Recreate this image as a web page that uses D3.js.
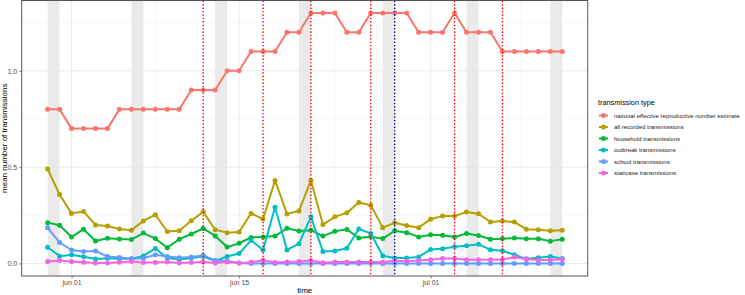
<!DOCTYPE html>
<html>
<head>
    <meta charset="utf-8">
    <title>Mean number of transmissions</title>
    <script type="text/javascript" src="https://cdn.jsdelivr.net/npm/d3@7"></script>
    <style>
        body { margin: 0; background: #fff; }
        svg { font-family: "Liberation Sans", Arial, sans-serif; }
        .axis text { fill: #4d4d4d; font-size: 7px; }
        .axis path { display: none; }
        .axis line { stroke: #333; stroke-width: 0.6; }
    </style>
</head>

<body>

<script type="text/javascript">
    var width = 745,
        height = 295,
        panel = {left: 21.7, right: 587.7, top: 0.5, bottom: 276};

    var startDate = new Date(2020, 4, 30);   // may 30, one value per day

    var seriesNames = [
        "national effective reproductive number estimate",
        "all recorded transmissions",
        "household transmissions",
        "outbreak transmissions",
        "school transmissions",
        "staircase transmissions"
    ];
    var seriesColors = ["#F8766D", "#B79F00", "#00BA38", "#00BFC4", "#619CFF", "#F564E3"];

    var reproductive = [0.8, 0.8, 0.7, 0.7, 0.7, 0.7, 0.8, 0.8, 0.8, 0.8, 0.8, 0.8,
        0.9, 0.9, 0.9, 1.0, 1.0, 1.1, 1.1, 1.1, 1.2, 1.2, 1.3, 1.3, 1.3, 1.2, 1.2,
        1.3, 1.3, 1.3, 1.3, 1.2, 1.2, 1.2, 1.3, 1.2, 1.2, 1.2, 1.1, 1.1, 1.1, 1.1, 1.1, 1.1];
    var allRecorded = [0.49, 0.358, 0.26, 0.27, 0.2, 0.195, 0.179, 0.173, 0.221, 0.253, 0.166,
        0.17, 0.222, 0.268, 0.175, 0.16, 0.163, 0.26, 0.231, 0.431, 0.257, 0.273, 0.431, 0.202,
        0.242, 0.263, 0.317, 0.302, 0.186, 0.211, 0.197, 0.186, 0.23, 0.247, 0.246, 0.267,
        0.258, 0.215, 0.22, 0.215, 0.178, 0.175, 0.17, 0.173];
    var household = [0.212, 0.198, 0.137, 0.178, 0.117, 0.131, 0.127, 0.125, 0.158, 0.129, 0.082,
        0.126, 0.153, 0.182, 0.143, 0.085, 0.105, 0.135, 0.138, 0.142, 0.183, 0.169, 0.173, 0.142,
        0.167, 0.177, 0.132, 0.139, 0.129, 0.17, 0.16, 0.138, 0.149, 0.147, 0.137, 0.156,
        0.145, 0.126, 0.128, 0.132, 0.128, 0.128, 0.116, 0.126];
    var outbreak = [0.084, 0.038, 0.045, 0.035, 0.023, 0.027, 0.025, 0.025, 0.039, 0.078, 0.028,
        0.02, 0.028, 0.036, 0.013, 0.036, 0.052, 0.12, 0.07, 0.292, 0.07, 0.103, 0.242, 0.062,
        0.065, 0.079, 0.179, 0.156, 0.04, 0.028, 0.028, 0.034, 0.073, 0.077, 0.087, 0.092,
        0.1, 0.071, 0.066, 0.045, 0.024, 0.03, 0.036, 0.026];
    var school = [0.185, 0.109, 0.07, 0.062, 0.065, 0.036, 0.031, 0.024, 0.027, 0.045, 0.036,
        0.03, 0.034, 0.042, 0.016, 0.013, 0.002, 0, 0, 0, 0, 0, 0, 0,
        0, 0, 0, 0, 0, 0, 0, 0, 0, 0, 0, 0,
        0, 0, 0, 0, 0, 0, 0, 0];
    var staircase = [0.01, 0.015, 0.01, 0.007, 0.003, 0.003, 0.007, 0.01, 0.005, 0.005, 0.008,
        0.003, 0.005, 0.008, 0.003, 0.008, 0.002, 0.007, 0.017, 0.005, 0.008, 0.01, 0.015, 0.004,
        0.008, 0.008, 0.008, 0.008, 0.007, 0.014, 0.012, 0.016, 0.019, 0.026, 0.026, 0.019,
        0.019, 0.019, 0.02, 0.034, 0.022, 0.018, 0.019, 0.022];

    var weekendStarts = ["2020-05-30", "2020-06-06", "2020-06-13", "2020-06-20", "2020-06-27", "2020-07-04", "2020-07-11"];
    var measureDates = ["2020-06-12", "2020-06-17", "2020-06-21", "2020-06-26", "2020-07-03", "2020-07-07"];
    var blueLineDates = ["2020-06-28"];

    var xTicks = ["2020-06-01", "2020-06-15", "2020-07-01"];
    var xMinor = ["2020-05-24 12:00", "2020-06-08", "2020-06-23", "2020-07-08 12:00"];
    var yTicks = [0, 0.5, 1.0];
    var yMinor = [0.25, 0.75, 1.25];

    var parse = d3.timeParse("%Y-%m-%d"),
        parseHalf = d3.timeParse("%Y-%m-%d %H:%M");

    var allSeries = [reproductive, allRecorded, household, outbreak, school, staircase];
    var nDays = reproductive.length;
    var dates = d3.range(nDays).map(function(i){ return d3.timeDay.offset(startDate, i); });

    var svg = d3.select("body").append("svg")
            .attr("width", width)
            .attr("height", height);

    var pad = (nDays - 1) * 0.05;
    var x = d3.scaleTime()
        .domain([d3.timeHour.offset(dates[0], -pad * 24), d3.timeHour.offset(dates[nDays - 1], pad * 24)])
        .range([panel.left, panel.right]);
    var y = d3.scaleLinear()
        .domain([-0.065, 1.365])
        .range([panel.bottom, panel.top]);

    function renderGrid(){
        var g = svg.append("g").classed("grid", true);

        g.selectAll("line.ym").data(yMinor).enter().append("line")
            .attr("x1", panel.left).attr("x2", panel.right)
            .attr("y1", function(d){ return y(d); }).attr("y2", function(d){ return y(d); })
            .attr("stroke", "#f2f2f2").attr("stroke-width", 0.6);
        g.selectAll("line.xm").data(xMinor).enter().append("line")
            .attr("x1", function(d){ return x(d.length > 10 ? parseHalf(d) : parse(d)); })
            .attr("x2", function(d){ return x(d.length > 10 ? parseHalf(d) : parse(d)); })
            .attr("y1", panel.top).attr("y2", panel.bottom)
            .attr("stroke", "#f2f2f2").attr("stroke-width", 0.6);
        g.selectAll("line.yM").data(yTicks).enter().append("line")
            .attr("x1", panel.left).attr("x2", panel.right)
            .attr("y1", function(d){ return y(d); }).attr("y2", function(d){ return y(d); })
            .attr("stroke", "#ebebeb").attr("stroke-width", 1);
        g.selectAll("line.xM").data(xTicks).enter().append("line")
            .attr("x1", function(d){ return x(parse(d)); }).attr("x2", function(d){ return x(parse(d)); })
            .attr("y1", panel.top).attr("y2", panel.bottom)
            .attr("stroke", "#ebebeb").attr("stroke-width", 1);
    }

    function renderWeekends(){
        svg.append("g").selectAll("rect").data(weekendStarts).enter().append("rect")
            .attr("x", function(d){ return x(parse(d)); })
            .attr("width", function(d){ return x(d3.timeDay.offset(parse(d), 1)) - x(parse(d)); })
            .attr("y", panel.top)
            .attr("height", panel.bottom - panel.top)
            .attr("fill", "#e3e3e3")
            .attr("fill-opacity", 0.75);
    }

    function renderSeries(){
        var line = d3.line()
            .x(function(d, i){ return x(dates[i]); })
            .y(function(d){ return y(d); });

        allSeries.forEach(function(values, k){
            var g = svg.append("g").classed("series", true);
            g.append("path")
                .attr("d", line(values))
                .attr("fill", "none")
                .attr("stroke", seriesColors[k])
                .attr("stroke-width", 2)
                .attr("stroke-linejoin", "round");
            g.selectAll("circle").data(values).enter().append("circle")
                .attr("cx", function(d, i){ return x(dates[i]); })
                .attr("cy", function(d){ return y(d); })
                .attr("r", 2.5)
                .attr("fill", seriesColors[k]);
        });
    }

    function renderVLines(list, color){
        svg.append("g").selectAll("line").data(list).enter().append("line")
            .attr("x1", function(d){ return x(parse(d)); })
            .attr("x2", function(d){ return x(parse(d)); })
            .attr("y1", panel.top + 1)
            .attr("y2", panel.bottom)
            .attr("stroke", color)
            .attr("stroke-width", 1.6)
            .attr("stroke-linecap", "round")
            .attr("stroke-dasharray", "0.1,3.3");
    }

    function renderAxes(){
        var fmt = d3.timeFormat("%b %d");
        var xAxis = d3.axisBottom(x)
            .tickValues(xTicks.map(parse))
            .tickSize(2.5)
            .tickPadding(2)
            .tickFormat(function(d){ return fmt(d).toLowerCase(); });
        svg.append("g")
            .classed("axis", true)
            .attr("transform", "translate(0," + panel.bottom + ")")
            .call(xAxis);

        var yAxis = d3.axisLeft(y)
            .tickValues(yTicks)
            .tickSize(2.5)
            .tickPadding(2)
            .tickFormat(d3.format(".1f"));
        svg.append("g")
            .classed("axis", true)
            .attr("transform", "translate(" + panel.left + ",0)")
            .call(yAxis);

        svg.append("rect")
            .attr("x", panel.left).attr("y", panel.top)
            .attr("width", panel.right - panel.left)
            .attr("height", panel.bottom - panel.top)
            .attr("fill", "none")
            .attr("stroke", "#555")
            .attr("stroke-width", 1);

        svg.append("text")
            .attr("x", (panel.left + panel.right) / 2)
            .attr("y", 293)
            .attr("text-anchor", "middle")
            .attr("font-size", 8)
            .text("time");

        svg.append("text")
            .attr("transform", "translate(7," + ((panel.top + panel.bottom) / 2) + ") rotate(-90)")
            .attr("text-anchor", "middle")
            .attr("font-size", 8)
            .text("mean number of transmissions");
    }

    function renderLegend(){
        var lg = svg.append("g").attr("transform", "translate(598,0)");
        lg.append("text")
            .attr("x", 0).attr("y", 105)
            .attr("font-size", 7.3)
            .text("transmission type");

        var items = lg.selectAll("g.item").data(seriesNames).enter().append("g")
            .attr("transform", function(d, i){ return "translate(0," + (115.5 + i * 11.5) + ")"; });
        items.append("line")
            .attr("x1", 1).attr("x2", 10)
            .attr("stroke", function(d, i){ return seriesColors[i]; })
            .attr("stroke-width", 2);
        items.append("circle")
            .attr("cx", 5.5).attr("r", 2.5)
            .attr("fill", function(d, i){ return seriesColors[i]; });
        items.append("text")
            .attr("x", 16).attr("y", 2.2)
            .attr("font-size", 6)
            .attr("fill", "#1a1a1a")
            .text(function(d){ return d; })
            .each(function(){
                // keep the long label inside the window
                var room = width - 598 - 16 - 3;
                if (this.getComputedTextLength() > room) {
                    d3.select(this).attr("textLength", room).attr("lengthAdjust", "spacingAndGlyphs");
                }
            });
    }

    renderGrid();
    renderWeekends();
    renderSeries();
    renderVLines(measureDates, "#ff0000");
    renderVLines(blueLineDates, "#000080");
    renderAxes();
    renderLegend();
</script>

</body>

</html>
